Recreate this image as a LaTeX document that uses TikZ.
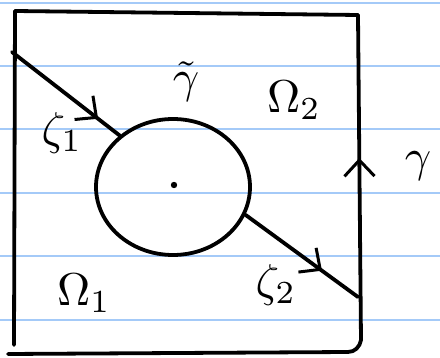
\documentclass[tikz,border=0pt]{standalone}
\usepackage{graphicx}
\usetikzlibrary{positioning,arrows.meta,shapes.geometric,decorations.markings}
\definecolor{paperline}{RGB}{164,202,248}
\newcommand{\handlbl}[1]{\scalebox{4.6}{$#1$}}

\begin{document}
\begin{tikzpicture}[x=1pt,y=-1pt,
  ruled/.style={draw=paperline, line width=1.6pt},
  stroke/.style={draw=black, line width=3.8pt, line cap=round, line join=round},
  midarrow/.style={postaction={decorate}, decoration={markings,
    mark=at position #1 with {\arrow{Straight Barb[length=16pt,width=30pt,line width=3pt]}}}},
  lbl/.style={inner sep=1pt}
]
\useasboundingbox (0,0) rectangle (440,358);

% ruled paper
\foreach \y in {3,66,129,193,256,320}
  \draw[ruled] (0,\y) -- (440,\y);

% outer square
\coordinate (tl) at (15,11);
\coordinate (tr) at (358,15);
\coordinate (bl) at (8,354);
\coordinate (br) at (361,340);
\draw[stroke] (tl) -- (tr);
\draw[stroke] (tl) -- (14,345);
\draw[stroke] (bl) -- (348,352) to[out=0,in=-100] (br);
\draw[stroke, midarrow=0.56] (br) -- (tr);

% inner circle
\node[ellipse, stroke, minimum width=154pt, minimum height=136pt, inner sep=0pt] (disc) at (173,187) {};
\fill (174,185) circle (3.2pt);

% cuts
\coordinate (cut1) at (12,52);
\coordinate (cut2) at (358,297);
\draw[stroke, midarrow=0.8] (cut1) -- (disc.136);
\draw[stroke, midarrow=0.68] (disc.-21) -- (cut2);

% labels
\node[lbl] (gtil) at (186,82) {\handlbl{\tilde{\gamma}}};
\node[lbl] (om2) at (294,100) {\handlbl{\Omega_2}};
\node[lbl] (gam) at (418,166) {\handlbl{\gamma}};
\node[lbl] (om1) at (84,293) {\handlbl{\Omega_1}};
\node[lbl] (z1) at (62,133) {\handlbl{\zeta_1}};
\node[lbl] (z2) at (276,285) {\handlbl{\zeta_2}};

\end{tikzpicture}
\end{document}
